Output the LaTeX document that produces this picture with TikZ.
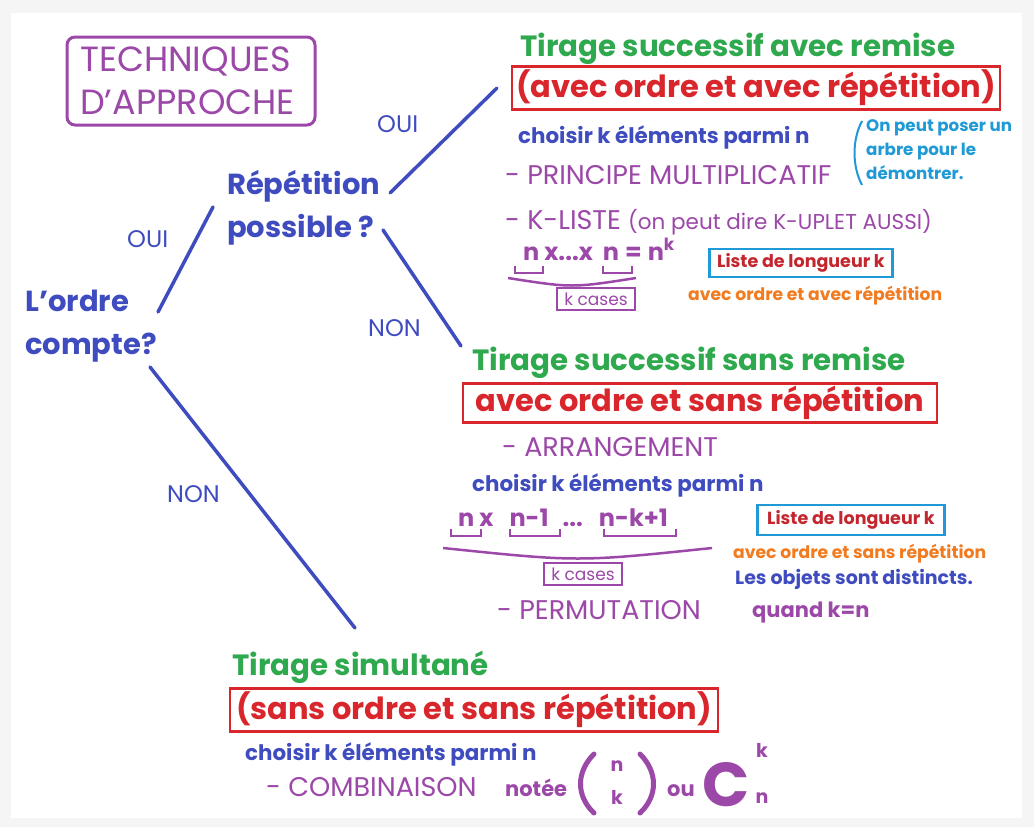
\documentclass[tikz,border=0pt]{standalone}
\usepackage{fontspec}
\setmainfont{Poppins}
\usetikzlibrary{positioning}
\definecolor{bleu}{HTML}{3F4CC0}
\definecolor{violet}{HTML}{9C48A8}
\definecolor{vert}{HTML}{2FA94E}
\definecolor{rouge}{HTML}{D9262C}
\definecolor{cyanb}{HTML}{1F9AD6}
\definecolor{orangeb}{HTML}{F27B1F}
\definecolor{rougef}{HTML}{C4262E}
\definecolor{fond}{HTML}{F5F5F5}

\begin{document}
\begin{tikzpicture}[x=1pt,y=-1pt,
  every node/.style={inner sep=0pt, anchor=base west},
  branche/.style={draw=bleu, line width=3.5pt, line cap=round},
  reponse/.style={text=bleu, font=\fontsize{24}{26}\selectfont},
  question/.style={text=bleu, font=\fontsize{29}{43}\selectfont\bfseries, align=left},
  tirage/.style={text=vert, font=\fontsize{29.3}{31}\selectfont\bfseries},
  cadre/.style={draw=rouge, line width=2.5pt, text=rouge, anchor=center,
    font=\fontsize{30.5}{32}\selectfont\bfseries},
  choix/.style={text=bleu, font=\fontsize{21.4}{23}\selectfont\bfseries},
  methode/.style={text=violet, font=\fontsize{27}{29}\selectfont},
  formule/.style={text=violet, font=\fontsize{24}{26}\selectfont\bfseries},
  accolade/.style={draw=violet, line width=2.5pt},
  cases/.style={draw=violet, line width=2pt, text=violet, anchor=center,
    font=\fontsize{17}{19}\selectfont, minimum width=78pt, minimum height=22pt},
  liste/.style={draw=cyanb, line width=2.5pt, text=rougef, anchor=center,
    font=\fontsize{17.5}{19}\selectfont\bfseries},
  remarque/.style={text=orangeb, font=\fontsize{17.2}{19}\selectfont\bfseries}
]
\fill[fond] (0,0) rectangle (1034,827);
\fill[white] (11,13) rectangle (1022,818);

\node[draw=violet, line width=3pt, rounded corners=8pt, anchor=center,
  minimum width=248pt, minimum height=88pt] (cadretitre) at (191,81) {};
\node[text=violet, font=\fontsize{35}{43}\selectfont, align=left]
  (titre) at (80,114) {TECHNIQUES\\D'APPROCHE};

\node[question] (ordre) at (25,354) {L'ordre\\compte?};
\node[question] (repet) at (227,237) {Répétition\\possible ?};

\coordinate (o1a) at (158,312);
\coordinate (o1b) at (213,207);
\coordinate (o2a) at (390,193);
\coordinate (o2b) at (497,88);
\coordinate (n2a) at (383,230);
\coordinate (n2b) at (461,346);
\coordinate (n1a) at (150,367);
\coordinate (n1b) at (355,628);
\draw[branche] (o1a) -- (o1b);
\draw[branche] (o2a) -- (o2b);
\draw[branche] (n2a) -- (n2b);
\draw[branche] (n1a) -- (n1b);
\node[reponse] (oui1) at (127,247) {OUI};
\node[reponse] (oui2) at (377,132) {OUI};
\node[reponse] (non2) at (368,336) {NON};
\node[reponse] (non1) at (167,502) {NON};

\node[tirage] (avecremise) at (520,56) {Tirage successif avec remise};
\node[cadre, minimum width=488pt, minimum height=43pt] (cadre1) at (756,88)
  {(avec ordre et avec répétition)};
\node[choix] (choix1) at (518,143) {choisir k éléments parmi n};
\node[methode] (principe) at (505,184) {- PRINCIPE MULTIPLICATIF};
\draw[draw=cyanb, line width=2pt] (862,121) .. controls (852,140) and (852,166) .. (862,185);
\node[text=cyanb, font=\fontsize{16.7}{24}\selectfont\bfseries, align=left, anchor=north west]
  (arbre) at (866,119) {On peut poser un\\arbre pour le\\démontrer.};
\node[methode] (kliste) at (505,229) {- K-LISTE {\fontsize{21.5}{23}\selectfont(on peut dire K-UPLET AUSSI)}};
\node[formule] (produit1) at (523,260) {n\hspace{5pt}x...x\hspace{10pt}n\hspace{6pt}=\hspace{6pt}n\textsuperscript{k}};
\draw[accolade] (515,266) -- (515,273) -- (543,273) -- (543,266);
\draw[accolade] (603,266) -- (603,273) -- (632,273) -- (632,266);
\draw[accolade] (508,278) .. controls (572,288) .. (636,278);
\node[cases] (cases1) at (596,299) {k cases};
\node[liste, minimum width=183pt, minimum height=28pt] (liste1) at (801,263) {Liste de longueur k};
\node[remarque] (rem1) at (688,300) {avec ordre et avec répétition};

\node[tirage] (sansremise) at (472,370) {Tirage successif sans remise};
\node[cadre, minimum width=474pt, minimum height=39pt] (cadre2) at (700,403)
  {avec ordre et sans répétition};
\node[methode] (arrangement) at (502,456) {- ARRANGEMENT};
\node[choix] (choix2) at (472,491) {choisir k éléments parmi n};
\node[formule] (produit2) at (458,526) {n x\hspace{16pt}n-1\hspace{14pt}...\hspace{16pt}n-k+1};
\draw[accolade] (451,529) -- (451,536) -- (481,536) -- (481,529);
\draw[accolade] (510,529) -- (510,536) -- (560,536) -- (560,529);
\draw[accolade] (604,529) -- (604,536) -- (676,536) -- (676,529);
\draw[accolade] (443,548) .. controls (578,562) .. (712,548);
\node[cases] (cases2) at (583,574) {k cases};
\node[liste, minimum width=187pt, minimum height=30pt] (liste2) at (851,520) {Liste de longueur k};
\node[remarque] (rem2) at (733,558) {avec ordre et sans répétition};
\node[choix, font=\fontsize{19}{21}\selectfont\bfseries] (distincts) at (735,584) {Les objets sont distincts.};
\node[methode] (permutation) at (497,619) {- PERMUTATION};
\node[methode, font=\fontsize{21}{23}\selectfont\bfseries] (quand) at (752,617) {quand k=n};

\node[tirage] (simultane) at (232,675) {Tirage simultané};
\node[cadre, minimum width=488pt, minimum height=43pt] (cadre3) at (474,710)
  {(sans ordre et sans répétition)};
\node[choix] (choix3) at (245,760) {choisir k éléments parmi n};
\node[methode] (combinaison) at (266,796) {- COMBINAISON};
\node[formule, font=\fontsize{21}{23}\selectfont\bfseries] (notee) at (505,796) {notée};
\draw[draw=violet, line width=5pt, line cap=round] (594,754) .. controls (576,772) and (576,796) .. (594,813);
\draw[draw=violet, line width=5pt, line cap=round] (640,754) .. controls (658,772) and (658,796) .. (640,813);
\node[formule, anchor=center, font=\fontsize{19}{21}\selectfont\bfseries] (bn) at (617,766) {n};
\node[formule, anchor=center, font=\fontsize{19}{21}\selectfont\bfseries] (bk) at (617,797) {k};
\node[formule, font=\fontsize{21}{23}\selectfont\bfseries] (ou) at (667,796) {ou};
\node[formule, font=\fontsize{62}{62}\selectfont\bfseries] (grandc) at (702,806) {C};
\node[formule, anchor=center, font=\fontsize{19}{21}\selectfont\bfseries] (ck) at (762,750) {k};
\node[formule, anchor=center, font=\fontsize{19}{21}\selectfont\bfseries] (cn) at (762,798) {n};
\end{tikzpicture}
\end{document}
